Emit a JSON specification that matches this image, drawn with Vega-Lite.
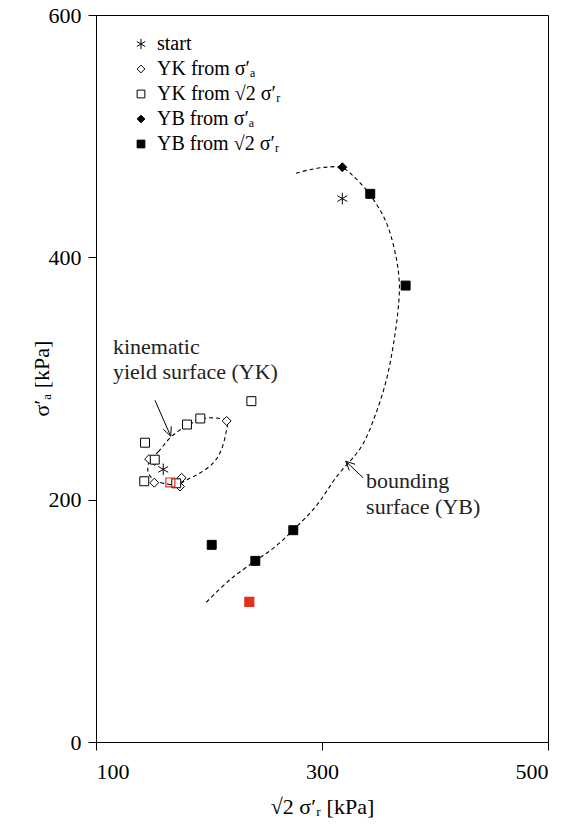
{
  "$schema": "https://vega.github.io/schema/vega-lite/v6.json",
  "width": 452,
  "height": 727,
  "autosize": {"type": "none"},
  "padding": {"left": 96, "top": 15, "right": 21, "bottom": 89},
  "background": "white",
  "config": {
    "font": "Liberation Serif",
    "view": {"stroke": "black", "strokeWidth": 1},
    "axis": {"grid": false, "domainColor": "black", "tickColor": "black", "labelColor": "black", "titleColor": "black", "labelFontSize": 22, "titleFontSize": 22, "titleFontWeight": "normal", "labelFont": "Liberation Serif", "titleFont": "Liberation Serif", "tickSize": 8}
  },
  "encoding": {
    "x": {"field": "x", "type": "quantitative", "scale": {"domain": [100, 500], "nice": false, "zero": false},
      "axis": {"values": [100, 300, 500], "title": "√2  σ′ᵣ [kPa]", "labelPadding": 11, "titlePadding": 14}},
    "y": {"field": "y", "type": "quantitative", "scale": {"domain": [0, 600], "nice": false, "zero": false},
      "axis": {"values": [0, 200, 400, 600], "title": "σ′ₐ [kPa]", "labelPadding": 7, "titleX": -55, "titleY": 363, "titleBaseline": "middle", "titleAlign": "center"}}
  },
  "layer": [
    {
      "data": {"values": [
        {"o": 1, "x": 147.8, "y": 233}, {"o": 2, "x": 155, "y": 239.5}, {"o": 3, "x": 165.5, "y": 251},
        {"o": 4, "x": 174.3, "y": 257.5}, {"o": 5, "x": 181.7, "y": 261.5}, {"o": 6, "x": 192, "y": 266.5},
        {"o": 7, "x": 203.8, "y": 267.5}, {"o": 8, "x": 215.6, "y": 265}, {"o": 9, "x": 215, "y": 255},
        {"o": 10, "x": 211, "y": 241.5}, {"o": 11, "x": 204, "y": 230.5}, {"o": 12, "x": 192, "y": 222},
        {"o": 13, "x": 180.5, "y": 216.5}, {"o": 14, "x": 172, "y": 212.5}, {"o": 15, "x": 163, "y": 213},
        {"o": 16, "x": 152, "y": 216}, {"o": 17, "x": 146, "y": 223}
      ]},
      "mark": {"type": "line", "interpolate": "cardinal-closed", "color": "black", "strokeWidth": 1.1, "strokeDash": [4, 3]},
      "encoding": {"order": {"field": "o", "type": "quantitative"}}
    },
    {
      "data": {"values": [
        {"o": 1, "x": 277, "y": 469.4}, {"o": 2, "x": 290, "y": 472.5}, {"o": 3, "x": 305, "y": 474.5},
        {"o": 4, "x": 318, "y": 474}, {"o": 5, "x": 330, "y": 465}, {"o": 6, "x": 343, "y": 451},
        {"o": 7, "x": 357, "y": 428.5}, {"o": 8, "x": 366, "y": 398}, {"o": 9, "x": 368.5, "y": 376},
        {"o": 10, "x": 367, "y": 354}, {"o": 11, "x": 363, "y": 327}, {"o": 12, "x": 357, "y": 299},
        {"o": 13, "x": 348, "y": 272}, {"o": 14, "x": 335, "y": 244}, {"o": 15, "x": 313, "y": 219},
        {"o": 16, "x": 295, "y": 195}, {"o": 17, "x": 274.6, "y": 175}, {"o": 18, "x": 257, "y": 160},
        {"o": 19, "x": 241, "y": 149.5}, {"o": 20, "x": 218.6, "y": 134}, {"o": 21, "x": 196.5, "y": 114.3}
      ]},
      "mark": {"type": "line", "interpolate": "catmull-rom", "color": "black", "strokeWidth": 1.1, "strokeDash": [4, 3]},
      "encoding": {"order": {"field": "o", "type": "quantitative"}}
    },
    {
      "data": {"values": [
        {"x": 152.2, "y": 282, "x2": 166.1, "y2": 252.4},
        {"x": 166.1, "y": 252.4, "x2": 166.6, "y2": 260.6},
        {"x": 166.1, "y": 252.4, "x2": 159.6, "y2": 258.1},
        {"x": 336.5, "y": 218, "x2": 321, "y2": 231.7},
        {"x": 321, "y": 231.7, "x2": 324.2, "y2": 224.1},
        {"x": 321, "y": 231.7, "x2": 329.4, "y2": 229.2}
      ]},
      "mark": {"type": "rule", "color": "black", "strokeWidth": 1},
      "encoding": {"x2": {"field": "x2"}, "y2": {"field": "y2"}}
    },
    {
      "data": {"values": [
        {"x": 115, "y": 325.6, "t": "kinematic"},
        {"x": 115, "y": 305, "t": "yield surface (YK)"},
        {"x": 339, "y": 215, "t": "bounding"},
        {"x": 339, "y": 194.3, "t": "surface (YB)"}
      ]},
      "mark": {"type": "text", "align": "left", "baseline": "middle", "fontSize": 22, "font": "Liberation Serif", "color": "#222"},
      "encoding": {"text": {"field": "t"}}
    },
    {
      "data": {"values": [
        {"s": "start", "x": 318, "y": 448.5},
        {"s": "start", "x": 159.5, "y": 225},
        {"s": "YK from σ′ₐ", "x": 215.6, "y": 265},
        {"s": "YK from σ′ₐ", "x": 147, "y": 233.5},
        {"s": "YK from σ′ₐ", "x": 151.8, "y": 232},
        {"s": "YK from σ′ₐ", "x": 151.6, "y": 214},
        {"s": "YK from σ′ₐ", "x": 175.8, "y": 218},
        {"s": "YK from σ′ₐ", "x": 174.3, "y": 210.8},
        {"s": "YK from √2 σ′ᵣ", "x": 237.5, "y": 281.3},
        {"s": "YK from √2 σ′ᵣ", "x": 143.4, "y": 247},
        {"s": "YK from √2 σ′ᵣ", "x": 180.5, "y": 262},
        {"s": "YK from √2 σ′ᵣ", "x": 192.3, "y": 267},
        {"s": "YK from √2 σ′ᵣ", "x": 152, "y": 233},
        {"s": "YK from √2 σ′ᵣ", "x": 142.7, "y": 215.2},
        {"s": "YK from √2 σ′ᵣ", "x": 171, "y": 213.5},
        {"s": "YB from σ′ₐ", "x": 318, "y": 474.4},
        {"s": "YB from √2 σ′ᵣ", "x": 342.7, "y": 452.4},
        {"s": "YB from √2 σ′ᵣ", "x": 374, "y": 376.7},
        {"s": "YB from √2 σ′ᵣ", "x": 274.6, "y": 174.8},
        {"s": "YB from √2 σ′ᵣ", "x": 241, "y": 149.5},
        {"s": "YB from √2 σ′ᵣ", "x": 202.4, "y": 162.7}
      ]},
      "mark": {"type": "point", "size": 80, "strokeWidth": 1, "opacity": 1},
      "encoding": {
        "shape": {"field": "s", "type": "nominal",
          "scale": {"domain": ["start", "YK from σ′ₐ", "YK from √2 σ′ᵣ", "YB from σ′ₐ", "YB from √2 σ′ᵣ"],
            "range": ["M-1.1,-0.65L1.1,0.65M-1.1,0.65L1.1,-0.65M0,-1.3L0,1.3", "diamond", "square", "diamond", "square"]},
          "legend": {"title": null, "orient": "none", "legendX": 35, "legendY": 19, "labelFontSize": 20, "labelFont": "Liberation Serif", "labelColor": "black", "rowPadding": 5, "labelOffset": 6, "symbolSize": 60, "symbolStrokeWidth": 1}},
        "fill": {"field": "s", "type": "nominal",
          "scale": {"domain": ["start", "YK from σ′ₐ", "YK from √2 σ′ᵣ", "YB from σ′ₐ", "YB from √2 σ′ᵣ"],
            "range": ["transparent", "white", "white", "black", "black"]},
          "legend": {"title": null, "orient": "none", "legendX": 35, "legendY": 19, "labelFontSize": 20, "labelFont": "Liberation Serif", "labelColor": "black", "rowPadding": 5, "labelOffset": 6, "symbolSize": 60, "symbolStrokeWidth": 1}},
        "stroke": {"field": "s", "type": "nominal",
          "scale": {"domain": ["start", "YK from σ′ₐ", "YK from √2 σ′ᵣ", "YB from σ′ₐ", "YB from √2 σ′ᵣ"],
            "range": ["black", "black", "black", "black", "black"]},
          "legend": {"title": null, "orient": "none", "legendX": 35, "legendY": 19, "labelFontSize": 20, "labelFont": "Liberation Serif", "labelColor": "black", "rowPadding": 5, "labelOffset": 6, "symbolSize": 60, "symbolStrokeWidth": 1}}
      }
    },
    {
      "data": {"values": [
        {"x": 165.8, "y": 214.2, "f": "transparent"},
        {"x": 235.7, "y": 115.7, "f": "#e0301e"}
      ]},
      "mark": {"type": "point", "shape": "square", "size": 80, "stroke": "#e0301e", "strokeWidth": 1.2, "opacity": 1},
      "encoding": {"fill": {"field": "f", "type": "nominal", "scale": null}}
    }
  ]
}
